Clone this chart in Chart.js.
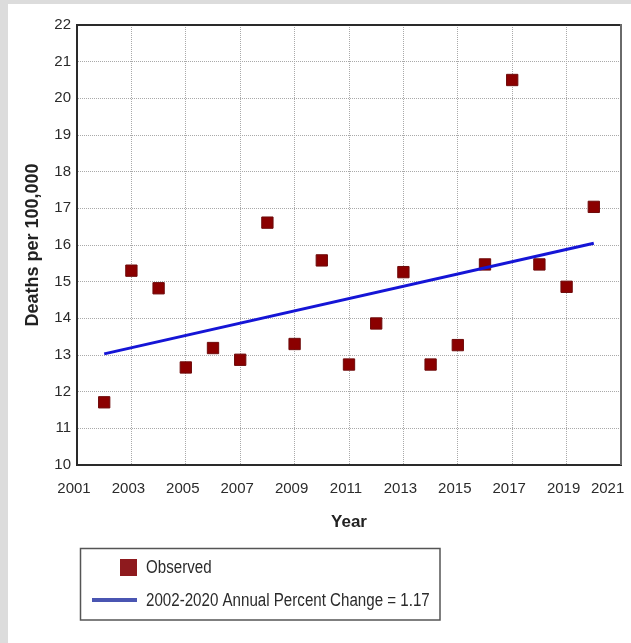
<!DOCTYPE html>
<html>
<head>
<meta charset="utf-8">
<script src="https://cdn.jsdelivr.net/npm/chart.js@4.4.1/dist/chart.umd.min.js"></script>
<style>
  html, body { margin: 0; padding: 0; background: #dcdcdc; }
  #wrap { position: relative; width: 631px; height: 643px; }
</style>
</head>
<body>
<div id="wrap"><canvas id="c"></canvas></div>
<script>
// Observed death rates per year
const years = [2002, 2003, 2004, 2005, 2006, 2007, 2008, 2009, 2010, 2011,
               2012, 2013, 2014, 2015, 2016, 2017, 2018, 2019, 2020];
const observed = [11.71, 15.30, 14.82, 12.66, 13.19, 12.87, 16.61, 13.30, 15.58, 12.74,
                  13.86, 15.26, 12.74, 13.27, 15.47, 20.50, 15.47, 14.86, 17.04];
// Fitted trend, endpoints of the 2002-2020 segment
const trendYears = [2002, 2020];
const trendValues = [13.03, 16.05];

const observedLabel = 'Observed';
const trendLabel = '2002-2020 Annual Percent Change = 1.17';
const xTitle = 'Year';
const yTitle = 'Deaths per 100,000';

const SANS = '"Liberation Sans", Arial, sans-serif';

// Gray page with the white panel behind the chart
const panelBg = {
  id: 'panelBg',
  beforeDraw(chart) {
    const ctx = chart.ctx;
    ctx.save();
    ctx.fillStyle = '#dcdcdc';
    ctx.fillRect(0, 0, chart.width, chart.height);
    ctx.fillStyle = '#ffffff';
    ctx.fillRect(8, 4, chart.width - 8, chart.height - 4);
    ctx.restore();
  }
};

// Top and right edges of the plot frame
const frame = {
  id: 'frame',
  afterDatasetsDraw(chart) {
    const {ctx, chartArea: a} = chart;
    ctx.save();
    ctx.lineWidth = 2;
    ctx.strokeStyle = '#2a2a2a';
    ctx.beginPath();
    ctx.moveTo(a.left, a.top);
    ctx.lineTo(a.right, a.top);
    ctx.stroke();
    ctx.strokeStyle = '#6a6a6a';
    ctx.beginPath();
    ctx.moveTo(a.right, a.top - 1);
    ctx.lineTo(a.right, a.bottom);
    ctx.stroke();
    ctx.restore();
  }
};

// Boxed legend below the plot, condensed text
const boxLegend = {
  id: 'boxLegend',
  afterDraw(chart) {
    const ctx = chart.ctx;
    const ds = chart.data.datasets;
    ctx.save();
    ctx.strokeStyle = '#555555';
    ctx.lineWidth = 1.5;
    ctx.strokeRect(80.5, 548.5, 359.5, 71.5);

    ctx.fillStyle = '#8e1a1e';
    ctx.fillRect(120, 559, 17, 17);
    ctx.strokeStyle = '#4a55b2';
    ctx.lineWidth = 4;
    ctx.beginPath();
    ctx.moveTo(92, 600);
    ctx.lineTo(137, 600);
    ctx.stroke();

    ctx.fillStyle = '#2b2b2b';
    ctx.font = '18px ' + SANS;
    ctx.textBaseline = 'middle';
    ctx.textAlign = 'left';
    const sx = 0.84;
    ctx.translate(146, 0);
    ctx.scale(sx, 1);
    ctx.fillText(ds[0].label, 0, 568);
    ctx.fillText(ds[1].label, 0, 601);
    ctx.restore();
  }
};

new Chart(document.getElementById('c'), {
  type: 'scatter',
  data: {
    datasets: [
      {
        label: observedLabel,
        data: years.map((y, i) => ({x: y, y: observed[i]})),
        pointStyle: 'rect',
        pointRadius: 8,
        backgroundColor: '#8b0000',
        borderColor: '#6e0a0a',
        borderWidth: 1,
        order: 2
      },
      {
        type: 'line',
        label: trendLabel,
        data: trendYears.map((y, i) => ({x: y, y: trendValues[i]})),
        borderColor: '#1515d6',
        borderWidth: 3,
        pointRadius: 0,
        fill: false,
        order: 1
      }
    ]
  },
  options: {
    responsive: true,
    maintainAspectRatio: false,
    animation: false,
    layout: { padding: { left: 0, top: 25, right: 10, bottom: 108 } },
    plugins: {
      legend: { display: false },
      tooltip: { enabled: false }
    },
    scales: {
      x: {
        type: 'linear',
        min: 2001,
        max: 2021,
        afterFit(s) { s.height = 70; s.paddingLeft = 0; s.paddingRight = 0; },
        ticks: {
          stepSize: 2,
          padding: 15,
          labelOffset: -3,
          maxRotation: 0,
          minRotation: 0,
          autoSkip: false,
          color: '#2b2b2b',
          font: { family: SANS, size: 15 },
          // last year label is nudged inward so it stays inside the panel
          callback: v => v === 2021 ? String(v) + '     ' : String(v)
        },
        grid: { color: '#a9a9a9', lineWidth: 1, drawTicks: false },
        border: { color: '#2a2a2a', width: 2, dash: [1, 1] },
        title: {
          display: true,
          text: xTitle,
          color: '#222',
          font: { family: SANS, size: 17, weight: 'bold' },
          padding: { top: 0, bottom: 2 }
        }
      },
      y: {
        min: 10,
        max: 22,
        afterFit(s) { s.width = 77; },
        ticks: {
          stepSize: 1,
          padding: 6,
          color: '#2b2b2b',
          font: { family: SANS, size: 15 }
        },
        grid: { color: '#a9a9a9', lineWidth: 1, drawTicks: false },
        border: { color: '#2a2a2a', width: 2, dash: [1, 1] },
        title: {
          display: true,
          text: yTitle,
          color: '#222',
          font: { family: SANS, size: 18, weight: 'bold' },
          padding: { top: 22, bottom: 0 }
        }
      }
    }
  },
  plugins: [panelBg, frame, boxLegend]
});
</script>
</body>
</html>
